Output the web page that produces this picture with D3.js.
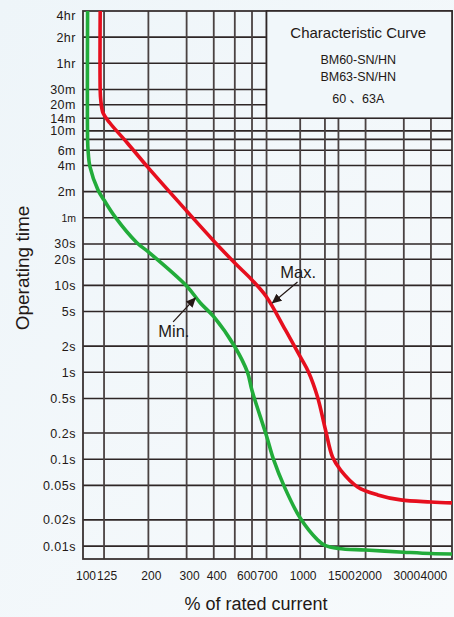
<!DOCTYPE html>
<html>
<head>
<meta charset="utf-8">
<script src="https://cdn.jsdelivr.net/npm/d3@7"></script>
<style>
  html, body { margin: 0; padding: 0; background: #f3f8fb; }
  svg { display: block; font-family: "Liberation Sans", Arial, "Noto Sans CJK SC", sans-serif; }
</style>
</head>
<body>
<svg id="chart" width="454" height="617"></svg>
<script>
// ---- data ----
const xGrid = [125, 200, 300, 400, 500, 600, 700, 1000, 1300, 1500, 2000, 3000, 4000];
const xTickValues = [100, 125, 200, 300, 400, 600, 700, 1000, 1500, 2000, 3000, 4000];
const xTickLabels = ["100", "125", "200", "300", "400", "600", "700", "1000", "1500", "2000", "3000", "4000"];

const yGrid = [7200, 3600, 1800, 1200, 840, 600, 480, 360, 240, 120, 60, 30, 20, 10, 5, 2, 1, 0.5, 0.2, 0.1, 0.05, 0.02, 0.01];
const yTickValues = [14400, 7200, 3600, 1800, 1200, 840, 600, 360, 240, 120, 60, 30, 20, 10, 5, 2, 1, 0.5, 0.2, 0.1, 0.05, 0.02, 0.01];
const yTickLabels = ["4hr", "2hr", "1hr", "30m", "20m", "14m", "10m", "6m", "4m", "2m", "1m", "30s", "20s", "10s", "5s", "2s", "1s", "0.5s", "0.2s", "0.1s", "0.05s", "0.02s", "0.01s"];

// Max. (red) curve: % of rated current vs operating time (s)
const maxCurrent = [120, 120, 120.7, 123.7, 133, 160, 200, 300, 400, 500, 600, 700, 855, 1003, 1092, 1202, 1308, 1409, 1535, 1838, 2274, 2902, 3992, 5000];
const maxTime    = [14400, 1780, 1360, 965, 740, 436, 225, 71.9, 32.5, 18.1, 11.56, 7.37, 3.07, 1.5, 1.01, 0.52, 0.217, 0.106, 0.075, 0.048, 0.0388, 0.034, 0.0322, 0.0314];

// Min. (green) curve
const minCurrent = [105, 105, 105.5, 107.7, 117.3, 125, 140.5, 177, 200, 300, 347, 400, 500, 571, 600, 700, 753, 846, 1000, 1202, 1300, 1500, 2000, 3000, 4000, 5000];
const minTime    = [14400, 472, 361, 231, 125, 96, 61.4, 31, 24.3, 9.85, 6.28, 4.37, 1.97, 1.01, 0.618, 0.185, 0.1, 0.048, 0.021, 0.0118, 0.0102, 0.0094, 0.0090, 0.0085, 0.0082, 0.0081];

// annotations (data units)
const annoLabels = ["Max.", "Min."];
const annoTextCurrent = [810, 222];
const annoTextTime = [12.2, 2.55];
const arrowTailCurrent = [972, 260];
const arrowTailTime = [10.96, 3.8];
const arrowHeadCurrent = [745, 329];
const arrowHeadTime = [6.28, 7.17];

const legendLines = ["Characteristic Curve", "BM60-SN/HN", "BM63-SN/HN", "60 、63A"];

// ---- layout ----
const svg = d3.select("#chart");
const W = 454, H = 617;
const mLeft = 83, mRight = 452, mTop = 11, mBottom = 559;

const x = d3.scaleLog().domain([100, 5000]).range([mLeft, mRight]);
const y = d3.scaleLog().domain([14400, 0.0071]).range([mTop, mBottom]);

// background
const defs = svg.append("defs");
const grad = defs.append("linearGradient").attr("id", "bg").attr("x1", 0).attr("y1", 0).attr("x2", 1).attr("y2", 1);
grad.append("stop").attr("offset", "0%").attr("stop-color", "#eef5f9");
grad.append("stop").attr("offset", "100%").attr("stop-color", "#f7fafc");
svg.append("rect").attr("width", W).attr("height", H).attr("fill", "url(#bg)");

defs.append("marker")
  .attr("id", "arrow").attr("viewBox", "0 0 10 10")
  .attr("refX", 9).attr("refY", 5)
  .attr("markerWidth", 10).attr("markerHeight", 10)
  .attr("markerUnits", "userSpaceOnUse")
  .attr("orient", "auto")
  .append("path").attr("d", "M0,0.5 L10,5 L0,9.5 Z").attr("fill", "#231815");

// grid
const grid = svg.append("g");
grid.selectAll(".hg").data(yGrid).join("line")
  .attr("x1", mLeft).attr("x2", mRight)
  .attr("y1", d => y(d)).attr("y2", d => y(d))
  .attr("stroke", "#2e2626").attr("stroke-width", 1.6);
grid.selectAll(".vg").data(xGrid).join("line")
  .attr("y1", mTop).attr("y2", mBottom)
  .attr("x1", d => x(d)).attr("x2", d => x(d))
  .attr("stroke", "#4a4242").attr("stroke-width", 1.8);

// border
svg.append("rect")
  .attr("x", mLeft).attr("y", mTop)
  .attr("width", mRight - mLeft).attr("height", mBottom - mTop)
  .attr("fill", "none").attr("stroke", "#3a3232").attr("stroke-width", 1.8);

// legend box (covers grid in upper right)
const lx0 = x(700), lx1 = x(5000), ly0 = y(14400), ly1 = y(840);
svg.append("rect")
  .attr("x", lx0).attr("y", ly0).attr("width", lx1 - lx0).attr("height", ly1 - ly0)
  .attr("fill", "#f1f7fa").attr("stroke", "#2e2626").attr("stroke-width", 1.6);
const lcx = (lx0 + lx1) / 2 - 1;
const legendY = [38, 64, 81, 103];
const legendSize = [15, 12.5, 12.5, 12.5];
svg.selectAll(".leg").data(legendLines).join("text")
  .attr("x", lcx).attr("y", (d, i) => legendY[i])
  .attr("text-anchor", "middle")
  .attr("font-size", (d, i) => legendSize[i])
  .attr("fill", "#231815")
  .text(d => d);

// curves
const line = d3.line().x(d => x(d[0])).y(d => y(d[1])).curve(d3.curveCatmullRom.alpha(0.5));
const maxData = maxCurrent.map((c, i) => [c, maxTime[i]]);
const minData = minCurrent.map((c, i) => [c, minTime[i]]);
svg.append("path").datum(minData).attr("d", line)
  .attr("fill", "none").attr("stroke", "#22ac3a").attr("stroke-width", 3.6).attr("stroke-linejoin", "round");
svg.append("path").datum(maxData).attr("d", line)
  .attr("fill", "none").attr("stroke", "#e60f1e").attr("stroke-width", 3.6).attr("stroke-linejoin", "round");

// annotations
annoLabels.forEach((lab, i) => {
  svg.append("line")
    .attr("x1", x(arrowTailCurrent[i])).attr("y1", y(arrowTailTime[i]))
    .attr("x2", x(arrowHeadCurrent[i])).attr("y2", y(arrowHeadTime[i]))
    .attr("stroke", "#231815").attr("stroke-width", 1.2)
    .attr("marker-end", "url(#arrow)");
  svg.append("text")
    .attr("x", x(annoTextCurrent[i])).attr("y", y(annoTextTime[i]))
    .attr("font-size", 16.5).attr("fill", "#231815")
    .text(lab);
});

// y tick labels
svg.selectAll(".yl").data(yTickValues).join("text")
  .attr("x", mLeft - 7)
  .attr("y", d => Math.max(y(d), mTop + 4))
  .attr("dy", "0.36em")
  .attr("text-anchor", "end")
  .attr("font-size", (d, i) => yTickLabels[i] === "1m" ? 10.5 : 12.5)
  .attr("letter-spacing", (d, i) => yTickLabels[i] === "1m" ? 0 : 0.5)
  .attr("fill", "#231815")
  .text((d, i) => yTickLabels[i]);

// x tick labels (600 / 700 sit side by side, meeting between their lines)
svg.selectAll(".xl").data(xTickValues).join("text")
  .attr("x", d => d === 600 ? x(600) + 5 : d === 700 ? x(700) - 9 : x(d) + 3)
  .attr("y", 580)
  .attr("text-anchor", d => d === 600 ? "end" : d === 700 ? "start" : "middle")
  .attr("font-size", 12)
  .attr("fill", "#231815")
  .text((d, i) => xTickLabels[i]);

// axis titles
svg.append("text")
  .attr("x", 256).attr("y", 610)
  .attr("text-anchor", "middle").attr("font-size", 18).attr("fill", "#231815")
  .text("% of rated current");
svg.append("text")
  .attr("transform", "translate(29,268) rotate(-90)")
  .attr("text-anchor", "middle").attr("font-size", 19).attr("fill", "#231815")
  .text("Operating time");
</script>
</body>
</html>
